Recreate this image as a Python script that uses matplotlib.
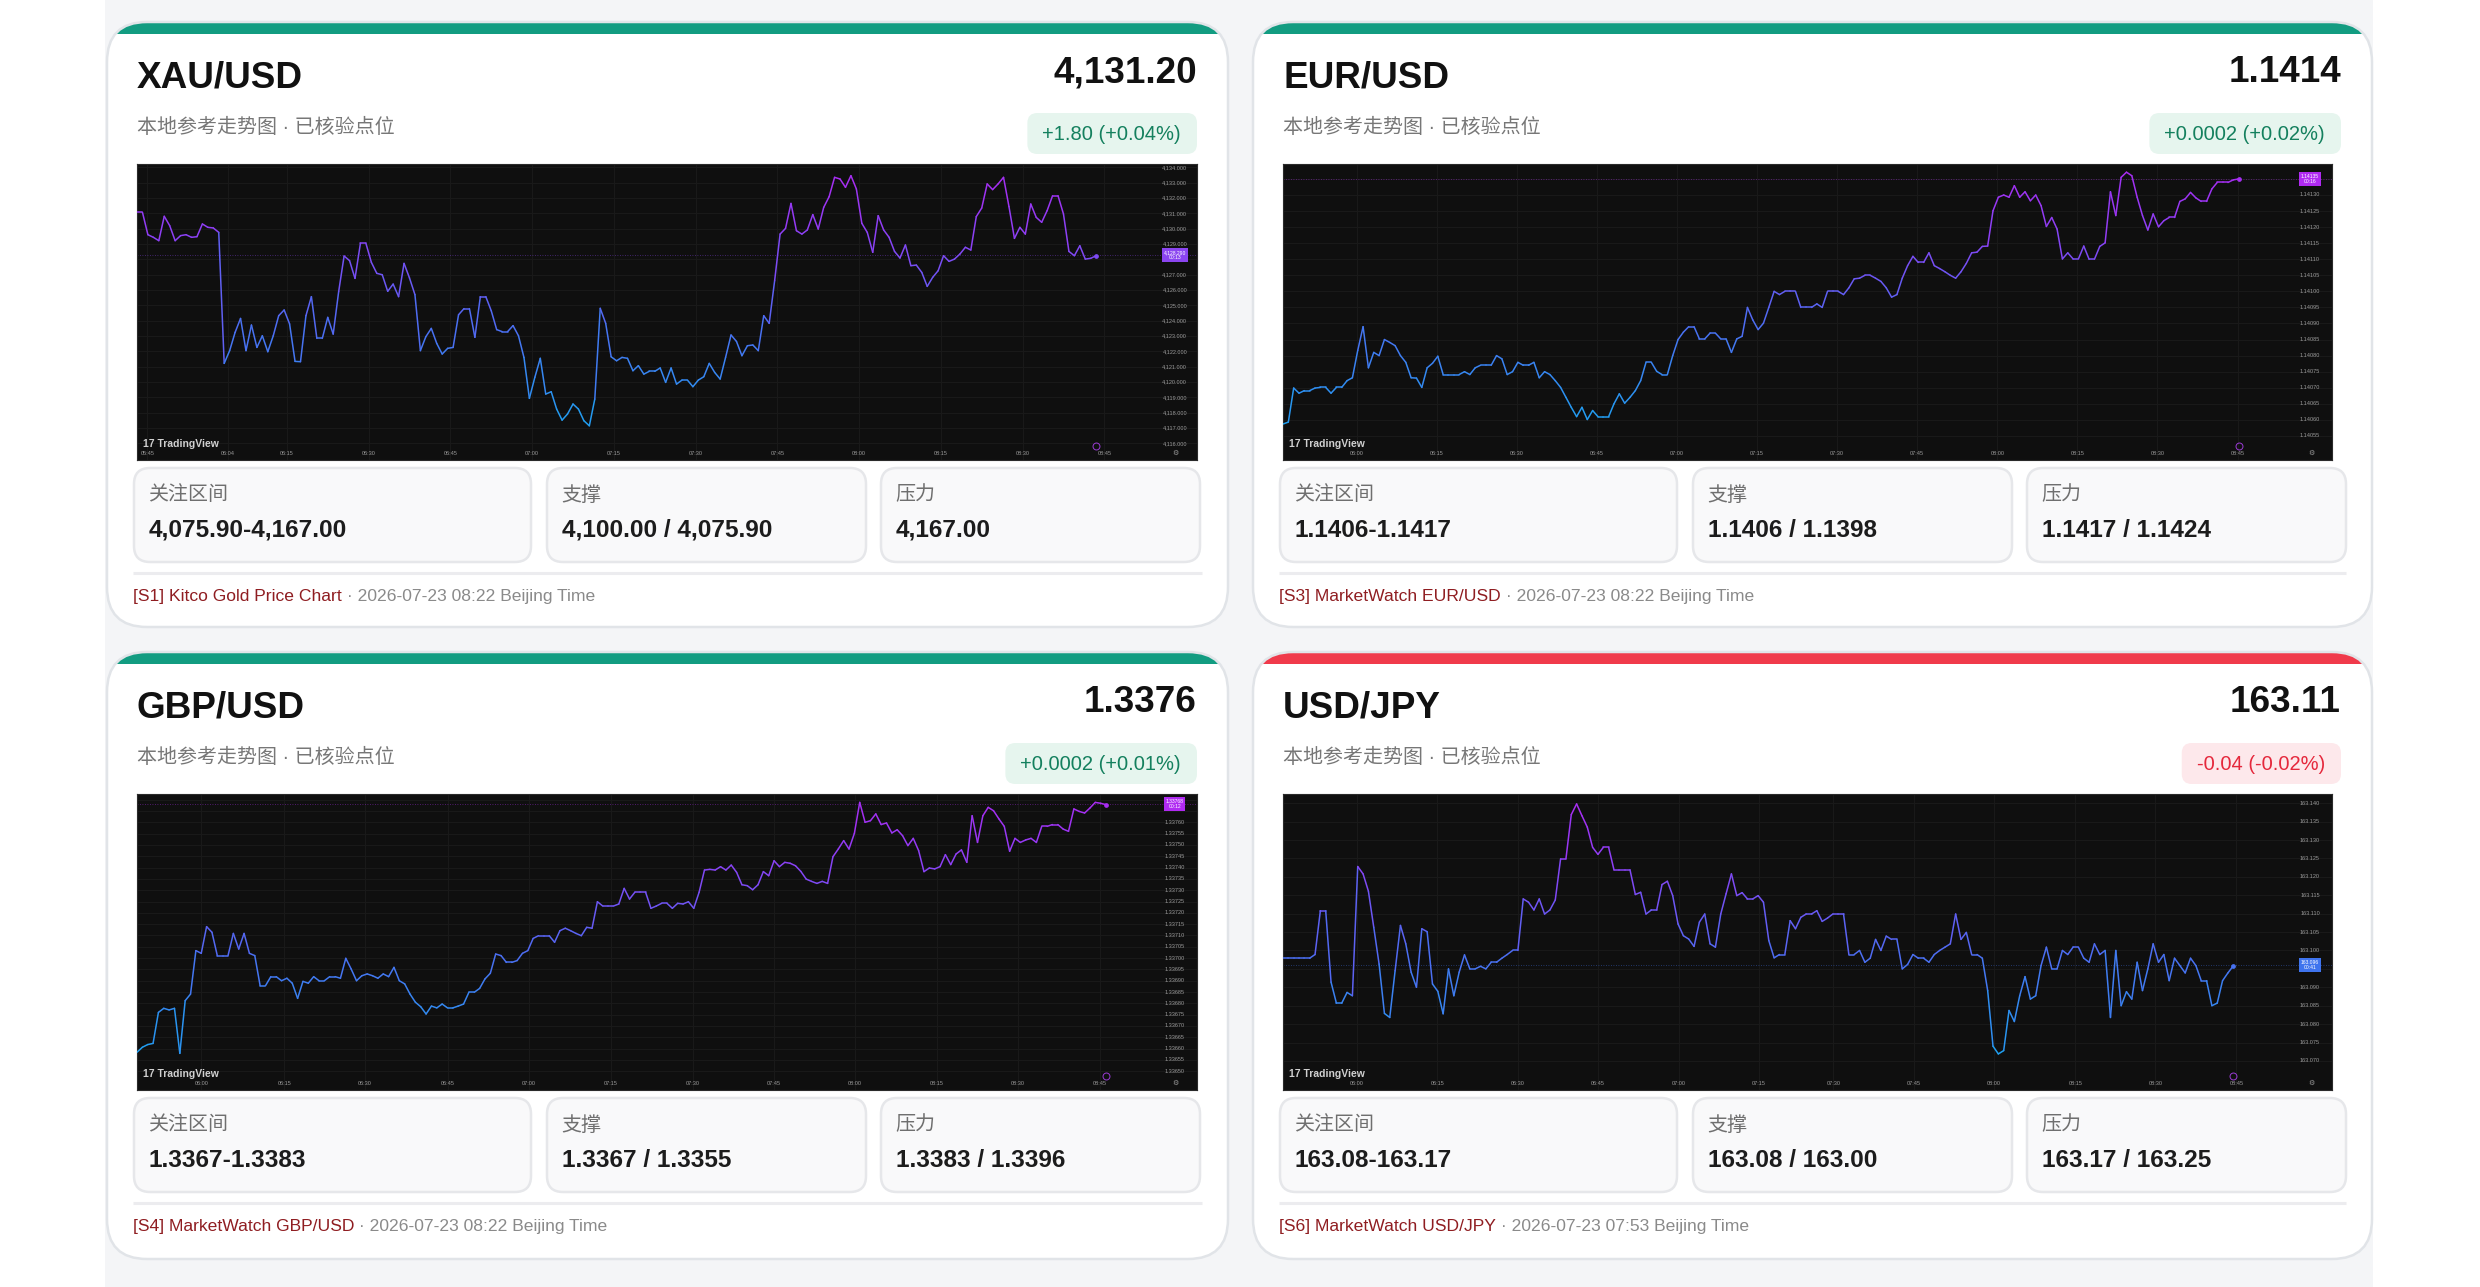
"""
Four FX / gold quote cards, each with a TradingView-style mini chart.
Values read off the reference screenshot (1-minute bars, 05:45 -> 08:45).
"""

import numpy as np
import matplotlib
matplotlib.use("Agg")
import matplotlib.pyplot as plt
from matplotlib.patches import FancyBboxPatch, Rectangle
from matplotlib.collections import LineCollection
from matplotlib.colors import LinearSegmentedColormap, Normalize

W, H, DPI = 2480, 1287, 100

plt.rcParams["font.family"] = ["Liberation Sans", "Noto Sans CJK SC", "DejaVu Sans"]

# --- Card data ---------------------------------------------------------------
PAIRS = ["XAU/USD", "EUR/USD", "GBP/USD", "USD/JPY"]
PRICES = ["4,131.20", "1.1414", "1.3376", "163.11"]
CHANGES = ["+1.80 (+0.04%)", "+0.0002 (+0.02%)", "+0.0002 (+0.01%)", "-0.04 (-0.02%)"]
IS_UP = [True, True, True, False]
ZONES = ["4,075.90-4,167.00", "1.1406-1.1417", "1.3367-1.3383", "163.08-163.17"]
SUPPORTS = ["4,100.00 / 4,075.90", "1.1406 / 1.1398", "1.3367 / 1.3355", "163.08 / 163.00"]
RESISTS = ["4,167.00", "1.1417 / 1.1424", "1.3383 / 1.3396", "163.17 / 163.25"]
SOURCES = ["[S1] Kitco Gold Price Chart", "[S3] MarketWatch EUR/USD",
           "[S4] MarketWatch GBP/USD", "[S6] MarketWatch USD/JPY"]
STAMPS = ["2026-07-23 08:22", "2026-07-23 08:22", "2026-07-23 08:22", "2026-07-23 07:53"]
SUBTITLE = "本地参考走势图 · 已核验点位"
BOX_LABELS = ["关注区间", "支撑", "压力"]

# --- Chart series (1-minute closes) ------------------------------------------
XAU = [4131.07, 4131.07, 4129.61, 4129.44, 4129.22, 4130.81, 4130.20, 4129.22, 4129.55, 4129.61,
       4129.44, 4129.48, 4130.31, 4130.09, 4130.05, 4129.76,
       4121.22, 4122.05, 4123.24, 4124.15, 4122.05, 4123.72, 4122.26, 4123.02, 4121.98, 4123.02,
       4124.33, 4124.70, 4123.79, 4121.35, 4121.33, 4124.33, 4125.57, 4122.85, 4122.85, 4124.22,
       4123.13, 4125.89, 4128.22, 4127.92, 4126.76, 4129.05, 4129.05, 4127.81, 4127.09, 4127.00,
       4125.92, 4126.39, 4125.57, 4127.74, 4126.79, 4125.70, 4122.05, 4122.96, 4123.50, 4122.52,
       4121.83, 4122.20, 4122.26, 4124.39, 4124.79, 4124.79, 4122.92, 4125.57, 4125.57, 4124.65,
       4123.42, 4123.29, 4123.29, 4123.68, 4123.02, 4121.61, 4118.94, 4120.31, 4121.55, 4119.22,
       4119.37, 4118.24, 4117.52, 4117.92, 4118.57, 4118.24, 4117.48, 4117.15, 4118.89, 4124.81,
       4123.83, 4121.65, 4121.39, 4121.61, 4121.55, 4120.74, 4121.07, 4120.52, 4120.70, 4120.70,
       4120.92, 4119.98, 4120.92, 4119.87, 4120.13, 4120.13, 4119.70, 4120.13, 4120.35, 4121.22,
       4120.63, 4120.20, 4121.61, 4123.07, 4122.65, 4121.72, 4122.37, 4122.42, 4122.05, 4124.33,
       4123.83, 4126.61,
       4129.65, 4130.02, 4131.65, 4129.87, 4129.65, 4129.92, 4130.92, 4129.98, 4131.39, 4132.09,
       4133.35, 4133.24, 4132.70, 4133.46, 4132.59, 4130.35, 4129.76, 4128.46, 4130.85, 4129.92,
       4129.44, 4128.52, 4128.09, 4128.94, 4127.59, 4127.63, 4127.15, 4126.24, 4126.83, 4127.26,
       4128.24, 4127.87, 4128.02, 4128.35, 4128.79, 4128.61, 4130.79, 4131.35, 4132.92, 4132.55,
       4132.92, 4133.35, 4131.44, 4129.37, 4130.09, 4129.65, 4131.61, 4130.74, 4130.42, 4131.18,
       4132.15, 4132.15, 4130.96, 4128.52, 4128.24, 4128.89, 4128.02, 4128.07, 4128.24]

EUR = [1.140587, 1.140593, 1.140699, 1.140683, 1.140691, 1.140691, 1.140699, 1.140701, 1.140701, 1.140683,
       1.140701, 1.140701, 1.140722, 1.140731, 1.140816, 1.140890, 1.140762, 1.140810, 1.140800, 1.140850,
       1.140841, 1.140831, 1.140800, 1.140779, 1.140731, 1.140730, 1.140701, 1.140762, 1.140776, 1.140798,
       1.140741, 1.140741, 1.140741, 1.140741, 1.140750, 1.140741, 1.140762, 1.140770, 1.140770, 1.140770,
       1.140800, 1.140790, 1.140741, 1.140750, 1.140779, 1.140770, 1.140770, 1.140779, 1.140731, 1.140750,
       1.140741, 1.140722, 1.140701, 1.140670, 1.140639, 1.140610, 1.140639, 1.140601, 1.140629, 1.140610,
       1.140610, 1.140610, 1.140650, 1.140681, 1.140652, 1.140670, 1.140691, 1.140722, 1.140779, 1.140779,
       1.140751, 1.140741, 1.140741, 1.140800, 1.140850, 1.140873, 1.140890, 1.140890, 1.140852, 1.140852,
       1.140870, 1.140870, 1.140852, 1.140852, 1.140810, 1.140852, 1.140860, 1.140950, 1.140911, 1.140881,
       1.140901, 1.140950, 1.141000, 1.140990, 1.141000, 1.141000, 1.141000, 1.140950, 1.140950, 1.140950,
       1.140961, 1.140950, 1.141000, 1.141000, 1.141000, 1.140990, 1.141011, 1.141039, 1.141041, 1.141050,
       1.141050, 1.141041, 1.141031, 1.141011, 1.140982, 1.140990, 1.141041, 1.141080, 1.141109, 1.141090,
       1.141090, 1.141120, 1.141080, 1.141071, 1.141061, 1.141050, 1.141041, 1.141061, 1.141087, 1.141120,
       1.141122, 1.141140, 1.141141, 1.141251, 1.141293, 1.141300, 1.141293, 1.141329, 1.141293, 1.141310,
       1.141282, 1.141300, 1.141267, 1.141202, 1.141230, 1.141194, 1.141101, 1.141120, 1.141101, 1.141101,
       1.141141, 1.141100, 1.141100, 1.141140, 1.141151, 1.141310, 1.141236, 1.141355, 1.141371, 1.141360,
       1.141293, 1.141236, 1.141191, 1.141241, 1.141201, 1.141220, 1.141230, 1.141230, 1.141280, 1.141288,
       1.141308, 1.141291, 1.141280, 1.141280, 1.141319, 1.141339, 1.141339, 1.141339, 1.141347, 1.141350]

GBP = [1.336584, 1.336606, 1.336618, 1.336623, 1.336760, 1.336778, 1.336771, 1.336778, 1.336579, 1.336812,
       1.336841, 1.337033, 1.337021, 1.337139, 1.337114, 1.337011, 1.337011, 1.337011, 1.337109, 1.337040,
       1.337109, 1.337021, 1.337011, 1.336878, 1.336878, 1.336918, 1.336918, 1.336900, 1.336911, 1.336889,
       1.336822, 1.336897, 1.336889, 1.336918, 1.336900, 1.336900, 1.336918, 1.336918, 1.336911, 1.336999,
       1.336952, 1.336900, 1.336922, 1.336930, 1.336922, 1.336911, 1.336930, 1.336918, 1.336959, 1.336900,
       1.336886, 1.336841, 1.336805, 1.336785, 1.336753, 1.336788, 1.336780, 1.336797, 1.336780, 1.336780,
       1.336788, 1.336797, 1.336849, 1.336849, 1.336866, 1.336908, 1.336933, 1.337018, 1.337011, 1.336981,
       1.336981, 1.336989, 1.337021, 1.337033, 1.337087, 1.337099, 1.337099, 1.337099, 1.337070, 1.337121,
       1.337132, 1.337121, 1.337109, 1.337099, 1.337136, 1.337132, 1.337249, 1.337230, 1.337230, 1.337230,
       1.337239, 1.337308, 1.337261, 1.337291, 1.337291, 1.337291, 1.337220, 1.337230, 1.337242, 1.337242,
       1.337220, 1.337242, 1.337239, 1.337249, 1.337220, 1.337291, 1.337389, 1.337392, 1.337389, 1.337404,
       1.337389, 1.337411, 1.337379, 1.337324, 1.337320, 1.337302, 1.337324, 1.337382, 1.337364, 1.337430,
       1.337404, 1.337423, 1.337419, 1.337408, 1.337383, 1.337349, 1.337339, 1.337330, 1.337339, 1.337330,
       1.337448, 1.337482, 1.337519, 1.337482, 1.337551, 1.337688, 1.337600, 1.337607, 1.337637, 1.337590,
       1.337597, 1.337553, 1.337567, 1.337541, 1.337497, 1.337529, 1.337475, 1.337382, 1.337398, 1.337394,
       1.337404, 1.337457, 1.337413, 1.337460, 1.337478, 1.337423, 1.337629, 1.337511, 1.337629, 1.337666,
       1.337651, 1.337615, 1.337582, 1.337472, 1.337529, 1.337511, 1.337522, 1.337529, 1.337511, 1.337582,
       1.337582, 1.337590, 1.337590, 1.337570, 1.337560, 1.337659, 1.337648, 1.337641, 1.337663, 1.337688,
       1.337684, 1.337678]

JPY = [163.0979, 163.0979, 163.0979, 163.0979, 163.0979, 163.0979, 163.0989, 163.1108, 163.1108, 163.0914,
       163.0857, 163.0857, 163.0886, 163.0877, 163.1228, 163.1208, 163.1161, 163.1063, 163.0963, 163.0829,
       163.0818, 163.0945, 163.1068, 163.1018, 163.0941, 163.0900, 163.1059, 163.1051, 163.0909, 163.0889,
       163.0828, 163.0950, 163.0877, 163.0941, 163.0988, 163.0950, 163.0950, 163.0957, 163.0950, 163.0968,
       163.0968, 163.0979, 163.0989, 163.1000, 163.1000, 163.1140, 163.1131, 163.1110, 163.1140, 163.1099,
       163.1110, 163.1137, 163.1249, 163.1249, 163.1369, 163.1398, 163.1366, 163.1335, 163.1280, 163.1261,
       163.1280, 163.1280, 163.1219, 163.1219, 163.1219, 163.1219, 163.1152, 163.1158, 163.1099, 163.1110,
       163.1110, 163.1179, 163.1188, 163.1149, 163.1072, 163.1040, 163.1031, 163.1011, 163.1077, 163.1099,
       163.1018, 163.1009, 163.1099, 163.1154, 163.1208, 163.1149, 163.1157, 163.1140, 163.1140, 163.1149,
       163.1131, 163.1027, 163.0980, 163.0989, 163.0989, 163.1081, 163.1059, 163.1090, 163.1099, 163.1099,
       163.1108, 163.1079, 163.1088, 163.1099, 163.1099, 163.1099, 163.0989, 163.0989, 163.1000, 163.0968,
       163.0979, 163.1030, 163.1000, 163.1039, 163.1030, 163.1030, 163.0950, 163.0962, 163.0989, 163.0979,
       163.0979, 163.0968, 163.0989, 163.1000, 163.1009, 163.1018, 163.1099, 163.1030, 163.1049, 163.0989,
       163.0989, 163.0979, 163.0891, 163.0740, 163.0719, 163.0728, 163.0837, 163.0807, 163.0877, 163.0929,
       163.0868, 163.0877, 163.0959, 163.1009, 163.0950, 163.0950, 163.1000, 163.0989, 163.1009, 163.1009,
       163.0979, 163.0968, 163.1018, 163.0989, 163.1000, 163.0818, 163.1000, 163.0850, 163.0888, 163.0868,
       163.0968, 163.0891, 163.0950, 163.1018, 163.0968, 163.0989, 163.0918, 163.0979, 163.0959, 163.0939,
       163.0979, 163.0959, 163.0918, 163.0918, 163.0850, 163.0857, 163.0918, 163.0939, 163.0958]

SERIES = [XAU, EUR, GBP, JPY]

# price-scale range shown on each chart, and its tick grid
Y_RANGES = [(4114.92, 4134.22), (1.140475, 1.1413965), (1.3364172, 1.337725), (163.0621, 163.1425)]
Y_TICKS = [np.arange(4116, 4134.5, 1.0),
           np.arange(1.14055, 1.141355, 0.00005),
           np.arange(1.33650, 1.337705, 0.00005),
           np.arange(163.070, 163.1405, 0.005)]
Y_FMT = ["{:,.3f}", "{:.5f}", "{:.5f}", "{:.3f}"]
X_SPAN = [194.5, 196.5, 198.0, 196.5]  # visible bars per chart

TIME_LABELS = [["05:45", "06:04", "06:15", "06:30", "06:45", "07:00", "07:15",
                "07:30", "07:45", "08:00", "08:15", "08:30", "08:45"],
               ["06:00", "06:15", "06:30", "06:45", "07:00", "07:15",
                "07:30", "07:45", "08:00", "08:15", "08:30", "08:45"]]
TIME_POS = [[1.9, 16.7, 27.5, 42.5, 57.5, 72.5, 87.5, 102.5, 117.5, 132.5, 147.5, 162.5, 177.5],
            [13.8, 28.8, 43.8, 58.8, 73.8, 88.8, 103.8, 118.8, 133.8, 148.8, 163.8, 178.8],
            [12.0, 27.5, 42.6, 58.0, 73.2, 88.5, 103.8, 118.9, 134.1, 149.4, 164.6, 179.9],
            [13.8, 28.9, 44.0, 59.0, 74.1, 89.2, 103.1, 118.2, 133.2, 148.4, 163.4, 178.6]]

LAST_PRICE = [4128.290, 1.14135, 1.33768, 163.096]
LAST_LABEL = ["4,128.290\n00:13", "1.14135\n00:16", "1.33768\n00:12", "163.096\n00:41"]
LAST_COLOR = ["#8b45f0", "#b02af2", "#b02af2", "#3f74ee"]

# --- Layout (pixels) ---------------------------------------------------------
CARDS = [(107, 22, 1121, 605), (1253, 22, 1119, 605),
         (107, 652, 1121, 607), (1253, 652, 1119, 607)]
CHART_W = [1060, 1049, 1060, 1049]
BOXES = [(27, 397), (440, 319), (774, 319)]

GREEN, RED = "#129c81", "#f03a4b"
CMAP = LinearSegmentedColormap.from_list(
    "tv", [(0, "#1fa0f0"), (0.4, "#4d6df2"), (0.75, "#8a42f5"), (1, "#a92cf2")])

fig = plt.figure(figsize=(W / DPI, H / DPI), dpi=DPI)
bg = fig.add_axes([0, 0, 1, 1])
bg.set_xlim(0, W)
bg.set_ylim(H, 0)
bg.axis("off")
bg.add_patch(Rectangle((105, 0), 2268, H, fc="#f4f5f7", ec="none", zorder=0))
renderer = fig.canvas.get_renderer()


def px_axes(x, y, w, h):
    return fig.add_axes([x / W, 1 - (y + h) / H, w / W, h / H])


def draw_chart(ax, i):
    vals = np.array(SERIES[i])
    ax.set_facecolor("#0f0f0f")
    ax.set_xlim(0, X_SPAN[i])
    ax.set_ylim(*Y_RANGES[i])
    ax.set_xticks([])
    ax.set_yticks([])
    for s in ax.spines.values():
        s.set_color("#2a2a2a")
        s.set_linewidth(0.8)

    tpos = TIME_POS[i]
    tlabels = TIME_LABELS[0] if i == 0 else TIME_LABELS[1]
    for t in tpos:
        ax.axvline(t, color="#1a1a1a", lw=0.7, zorder=0)
    for v in Y_TICKS[i]:
        ax.axhline(v, color="#1a1a1a", lw=0.7, zorder=0)

    # gradient line: colour follows price level
    x = np.arange(len(vals))
    pts = np.column_stack([x, vals]).reshape(-1, 1, 2)
    segs = np.concatenate([pts[:-1], pts[1:]], axis=1)
    norm = Normalize(vals.min(), vals.max())
    lc = LineCollection(segs, colors=CMAP(norm((vals[:-1] + vals[1:]) / 2)),
                        linewidth=1.1, capstyle="round", joinstyle="round", zorder=3)
    ax.add_collection(lc)
    ax.plot(x[-1], vals[-1], "o", ms=2.4, color=CMAP(norm(vals[-1])), zorder=4)

    last = LAST_PRICE[i]
    ax.axhline(last, color=LAST_COLOR[i], lw=0.6, ls=(0, (1, 2)), alpha=0.55, zorder=2)

    ytr = ax.get_yaxis_transform()
    step = Y_TICKS[i][1] - Y_TICKS[i][0]
    for v in Y_TICKS[i]:
        if abs(v - last) < 0.6 * step:
            continue
        ax.text(0.979, v, Y_FMT[i].format(v), transform=ytr, fontsize=4,
                color="#9a9a9a", ha="center", va="center")
    ax.text(0.979, last, LAST_LABEL[i], transform=ytr, fontsize=3.6, color="white",
            ha="center", va="center", linespacing=1.0,
            bbox=dict(boxstyle="square,pad=0.35", fc=LAST_COLOR[i], ec="none"))

    xtr = ax.get_xaxis_transform()
    for t, lab in zip(tpos, tlabels):
        ax.text(t, 0.022, lab, transform=xtr, fontsize=4, color="#9a9a9a",
                ha="center", va="center")
    ax.text(0.006, 0.055, "17 TradingView", transform=ax.transAxes, fontsize=7.5,
            fontweight="bold", color="#d0d0d0", va="center")
    ax.plot([x[-1]], [0.048], transform=xtr, marker="o", ms=5, mfc="none",
            mec="#9b3bd6", mew=0.7, clip_on=False)
    ax.text(0.98, 0.022, "⚙", transform=ax.transAxes, fontsize=5,
            color="#9a9a9a", ha="center", va="center")


def draw_card(i):
    cx, cy, cw, ch = CARDS[i]
    right = cx + cw - 31
    up = IS_UP[i]

    card = FancyBboxPatch((cx, cy), cw, ch, boxstyle="round,pad=0,rounding_size=40",
                          fc="white", ec="none", zorder=1)
    bg.add_patch(card)
    bar = Rectangle((cx, cy), cw, 12, fc=GREEN if up else RED, ec="none", zorder=2)
    bg.add_patch(bar)
    bar.set_clip_path(card)
    bg.add_patch(FancyBboxPatch((cx, cy), cw, ch, boxstyle="round,pad=0,rounding_size=40",
                                fc="none", ec="#e1e4e8", lw=1.8, zorder=3))

    bg.text(cx + 30, cy + 66, PAIRS[i], fontsize=26.6, fontweight="bold",
            color="#111111", va="baseline", zorder=4)
    bg.text(right, cy + 60, PRICES[i], fontsize=26.6, fontweight="bold",
            color="#111111", ha="right", va="baseline", zorder=4)
    bg.text(cx + 30, cy + 105, SUBTITLE, fontsize=14.4, color="#777777",
            va="center", zorder=4)

    # change badge, sized to its text
    t = bg.text(right - 16, cy + 112, CHANGES[i], fontsize=14.5, ha="right", va="center",
                color="#14805e" if up else "#e5283c", zorder=5)
    ext = t.get_window_extent(renderer)
    bx0 = ext.x0 - 15
    bg.add_patch(FancyBboxPatch((bx0, cy + 91), right - bx0, 41,
                                boxstyle="round,pad=0,rounding_size=10",
                                fc="#e6f5ee" if up else "#fde8eb", ec="none", zorder=4))

    ax = px_axes(cx + 30, cy + 142, CHART_W[i], 296)
    draw_chart(ax, i)

    values = [ZONES[i], SUPPORTS[i], RESISTS[i]]
    for (dx, bw), lab, val in zip(BOXES, BOX_LABELS, values):
        bx = cx + dx
        bg.add_patch(FancyBboxPatch((bx, cy + 446), bw, 94,
                                    boxstyle="round,pad=0,rounding_size=16",
                                    fc="#f9f9fa", ec="#e6e7ea", lw=1.8, zorder=4))
        bg.text(bx + 14, cy + 473, lab, fontsize=14.4, color="#6f6f6f",
                va="center", zorder=5)
        bg.text(bx + 15, cy + 515, val, fontsize=17.6, fontweight="bold",
                color="#1c1c1c", va="baseline", zorder=5)

    bg.plot([cx + 26, cx + cw - 26], [cy + 551, cy + 551], color="#ececef",
            lw=2.2, zorder=4, solid_capstyle="butt")
    src = bg.text(cx + 26, cy + 574, SOURCES[i], fontsize=12.6, color="#8f1d21",
                  va="center", zorder=5)
    sx = src.get_window_extent(renderer).x1
    bg.text(sx, cy + 574, f" · {STAMPS[i]} Beijing Time", fontsize=12.6,
            color="#8a8a8a", va="center", zorder=5)


for i in range(4):
    draw_card(i)

fig.savefig("out.png", dpi=DPI)
